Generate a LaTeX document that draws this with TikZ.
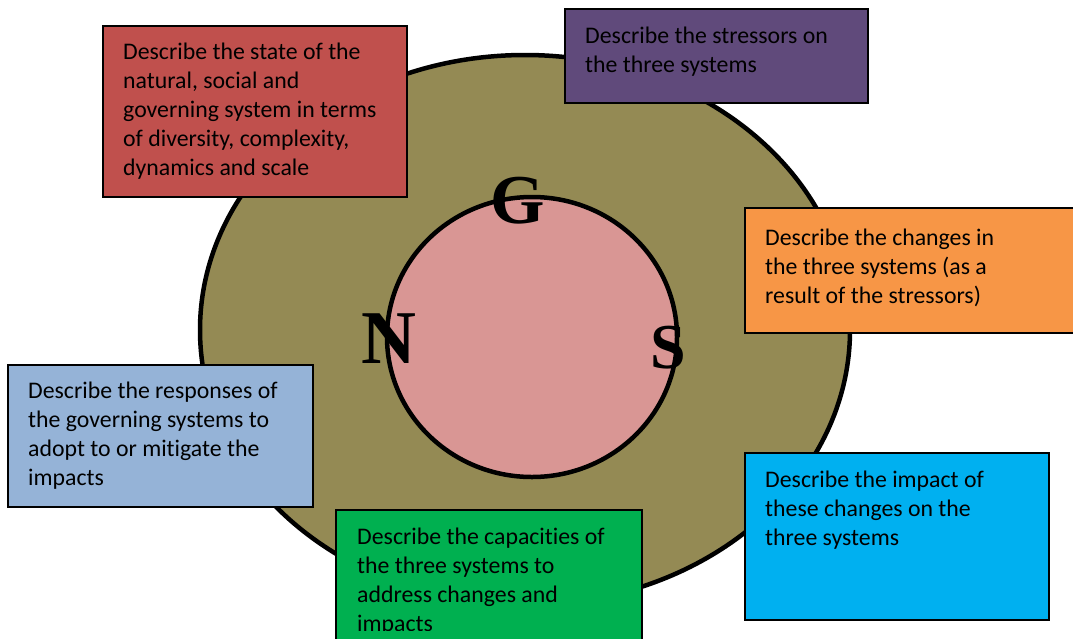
\documentclass[tikz,border=0pt]{standalone}
\usepackage{fontspec}
\setmainfont[Ligatures={NoCommon}]{Carlito}
\newfontfamily\letterfont{Liberation Serif}
\definecolor{olivefill}{HTML}{948A54}
\definecolor{pinkfill}{HTML}{D99694}
\definecolor{redbox}{HTML}{C0504D}
\definecolor{purplebox}{HTML}{604A7B}
\definecolor{orangebox}{HTML}{F79646}
\definecolor{bluebox}{HTML}{95B3D7}
\definecolor{greenbox}{HTML}{00B050}
\definecolor{cyanbox}{HTML}{00B0F0}
\begin{document}
\begin{tikzpicture}[x=1pt,y=-1pt,
  infobox/.style={draw=black, line width=1.6pt, rectangle, inner sep=0pt, anchor=north west},
  infotext/.style={anchor=north west, inner sep=0pt, align=left, font=\fontsize{23.8}{29}\selectfont, text=black},
  sysletter/.style={anchor=base, inner sep=0pt, text=black}]
\useasboundingbox (0,0) rectangle (1073,638);
\clip (0,0) rectangle (1073,638);
% big ellipse and inner circle
\draw[line width=4.5pt, fill=olivefill] (525,330) ellipse [x radius=325, y radius=275];
\draw[line width=4.5pt, fill=pinkfill] (532,337) ellipse [x radius=145, y radius=140];
% letters
\node[sysletter, font=\letterfont\bfseries\fontsize{70}{70}\selectfont] (G) at (518,223) {G};
\node[sysletter, font=\letterfont\bfseries\fontsize{76}{76}\selectfont] (N) at (389,363) {N};
\node[sysletter, font=\letterfont\bfseries\fontsize{64}{64}\selectfont] (S) at (668.5,368) {S};
% boxes
\node[infobox, fill=redbox, minimum width=304pt, minimum height=171pt] (state) at (102,25) {};
\node[infotext] (statetext) at (123,39) {\rule{0pt}{20pt}Describe the state of the\\natural, social and\\governing system in terms\\of diversity, complexity,\\dynamics and scale};
\node[infobox, fill=purplebox, minimum width=303pt, minimum height=94pt] (stress) at (564,8) {};
\node[infotext] (stresstext) at (585,23) {\rule{0pt}{20pt}Describe the stressors on\\the three systems};
\node[infobox, fill=orangebox, minimum width=340pt, minimum height=125pt] (change) at (744,207) {};
\node[infotext] (changetext) at (765,225) {\rule{0pt}{20pt}Describe the changes in\\the three systems (as a\\result of the stressors)};
\node[infobox, fill=bluebox, minimum width=305pt, minimum height=142pt] (resp) at (7,364) {};
\node[infotext] (resptext) at (28,378) {\rule{0pt}{20pt}Describe the responses of\\the governing systems to\\adopt to or mitigate the\\impacts};
\node[infobox, fill=greenbox, minimum width=306pt, minimum height=160pt] (cap) at (335,509) {};
\begin{scope}
\clip (335,509) rectangle (641,630);
\node[infotext] (captext) at (357,524) {\rule{0pt}{20pt}Describe the capacities of\\the three systems to\\address changes and\\impacts};
\end{scope}
\node[infobox, fill=cyanbox, minimum width=304pt, minimum height=167pt] (impact) at (744,452) {};
\node[infotext] (impacttext) at (765,467) {\rule{0pt}{20pt}Describe the impact of\\these changes on the\\three systems};
\end{tikzpicture}
\end{document}
